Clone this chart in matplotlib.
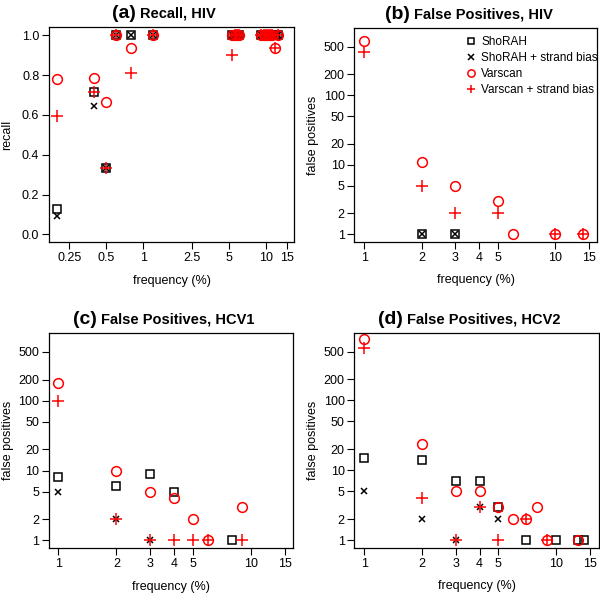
import matplotlib
matplotlib.use("Agg")
import matplotlib.pyplot as plt
import numpy as np
from matplotlib.offsetbox import TextArea, HPacker, AnchoredOffsetbox
from matplotlib.lines import Line2D

plt.rcParams['font.family'] = ['Liberation Sans', 'DejaVu Sans']

nan = np.nan

# (a) recall, HIV
freq_a = [0.2, 0.4, 0.5, 0.6, 0.8, 1.2, 5.3, 5.6, 5.8, 6.0,
          9.2, 9.6, 10.0, 10.4, 10.8, 11.2, 12.0, 12.6]
shorah_a = [0.125, 0.714, 0.333, 1, 1, 1, 1, 1, 1, 1,
            1, 1, 1, 1, 1, 1, 1, 1]
shorah_sb_a = [0.094, 0.643, 0.333, 1, 1, 1, 1, 1, 1, 1,
               1, 1, 1, 1, 1, 1, 1, 1]
varscan_a = [0.781, 0.786, 0.667, 1, 0.9375, 1, 1, 1, 1, 1,
             1, 1, 1, 1, 1, 1, 0.9375, 1]
varscan_sb_a = [0.594, 0.714, 0.333, 1, 0.8125, 1, 0.9, 1, 1, 1,
                1, 1, 1, 1, 1, 1, 0.9375, 1]

# (b) false positives, HIV
freq_b = [1, 2, 3, 5, 6, 10, 14]
shorah_b = [nan, 1, 1, nan, nan, nan, nan]
shorah_sb_b = [nan, 1, 1, nan, nan, nan, nan]
varscan_b = [600, 11, 5, 3, 1, 1, 1]
varscan_sb_b = [420, 5, 2, 2, nan, 1, 1]

# (c) false positives, HCV1
freq_c = [1, 2, 3, 4, 5, 6, 8, 9]
shorah_c = [8, 6, 9, 5, nan, nan, 1, nan]
shorah_sb_c = [5, 2, 1, nan, nan, nan, nan, nan]
varscan_c = [180, 10, 5, 4, 2, 1, nan, 3]
varscan_sb_c = [100, 2, 1, 1, 1, 1, nan, 1]

# (d) false positives, HCV2
freq_d = [1, 2, 3, 4, 5, 6, 7, 8, 9, 10, 13, 14]
shorah_d = [15, 14, 7, 7, 3, nan, 1, nan, nan, 1, 1, 1]
shorah_sb_d = [5, 2, 1, 3, 2, nan, nan, nan, nan, nan, nan, nan]
varscan_d = [760, 24, 5, 5, 3, 2, 2, 3, 1, nan, 1, nan]
varscan_sb_d = [560, 4, 1, 3, 1, nan, 2, nan, 1, nan, nan, nan]

labels = ["ShoRAH", "ShoRAH + strand bias", "Varscan", "Varscan + strand bias"]
fp_ticks = [1, 2, 5, 10, 20, 50, 100, 200, 500]
freq_ticks = [1, 2, 3, 4, 5, 10, 15]
recall_ticks = [0.0, 0.2, 0.4, 0.6, 0.8, 1.0]
freq_ticks_a = [0.25, 0.5, 1, 2.5, 5, 10, 15]

W, H = 600, 595
fig = plt.figure(figsize=(6, 5.95), dpi=100)


def box(l, r, t, b):
    return fig.add_axes([l / W, (H - b) / H, (r - l) / W, (b - t) / H])


def draw(ax, f, s, ssb, v, vsb):
    ax.plot(f, s, ls='none', marker='s', ms=6, mfc='none', mec='black', mew=1.1)
    ax.plot(f, ssb, ls='none', marker='x', ms=5, color='black', mew=1.1)
    ax.plot(f, v, ls='none', marker='o', ms=7, mfc='none', mec='red', mew=1.1)
    ax.plot(f, vsb, ls='none', marker='+', ms=8, color='red', mew=1.1)


def style(ax, part, title):
    ax.tick_params(direction='out', length=5, width=0.8, labelsize=9, pad=2)
    for sp in ax.spines.values():
        sp.set_linewidth(0.9)
    ax.minorticks_off()
    ax.set_xlabel("frequency (%)", fontsize=9)
    ax.xaxis.set_label_coords(0.5, -0.15)
    ax.yaxis.set_label_coords(-0.145, 0.5)
    t1 = TextArea(part, textprops=dict(fontsize=14, fontweight='bold'))
    t2 = TextArea(title, textprops=dict(fontsize=10.5, fontweight='bold'))
    pk = HPacker(children=[t1, t2], align='baseline', pad=0, sep=3)
    ab = AnchoredOffsetbox(loc='lower center', child=pk, frameon=False,
                           bbox_to_anchor=(0.47, 1.025), bbox_transform=ax.transAxes,
                           borderpad=0, pad=0)
    ax.add_artist(ab)


def fp_axes(ax):
    ax.set_xscale('log')
    ax.set_yscale('log')
    ax.set_xlim(0.887, 16.6)
    ax.set_ylim(0.77, 920)
    ax.set_xticks(freq_ticks)
    ax.set_xticklabels([str(t) for t in freq_ticks])
    ax.set_yticks(fp_ticks)
    ax.set_yticklabels([str(t) for t in fp_ticks])
    ax.minorticks_off()
    ax.set_ylabel("false positives", fontsize=9)


# (a)
ax = box(49, 294, 27.3, 242.3)
draw(ax, freq_a, shorah_a, shorah_sb_a, varscan_a, varscan_sb_a)
ax.set_xscale('log')
ax.set_xlim(0.171, 17.0)
ax.set_ylim(-0.04, 1.04)
ax.set_xticks(freq_ticks_a)
ax.set_xticklabels(["0.25", "0.5", "1", "2.5", "5", "10", "15"])
ax.set_yticks(recall_ticks)
ax.set_yticklabels(["%.1f" % t for t in recall_ticks])
ax.set_ylabel("recall", fontsize=9)
style(ax, "(a)", "Recall, HIV")

# (b)
ax = box(354.3, 597.3, 28.3, 242.3)
draw(ax, freq_b, shorah_b, shorah_sb_b, varscan_b, varscan_sb_b)
fp_axes(ax)
style(ax, "(b)", "False Positives, HIV")
handles = [
    Line2D([], [], ls='none', marker='s', ms=6, mfc='none', mec='black', mew=1.1),
    Line2D([], [], ls='none', marker='x', ms=5, color='black', mew=1.1),
    Line2D([], [], ls='none', marker='o', ms=7, mfc='none', mec='red', mew=1.1),
    Line2D([], [], ls='none', marker='+', ms=8, color='red', mew=1.1),
]
ax.legend(handles, labels, loc='upper left', bbox_to_anchor=(0.455, 0.965),
          frameon=False, fontsize=8.5, handlelength=1.0, handletextpad=0.4,
          borderpad=0, borderaxespad=0, labelspacing=0.35, markerscale=0.75)

# (c)
ax = box(49, 293.3, 333.3, 548.3)
draw(ax, freq_c, shorah_c, shorah_sb_c, varscan_c, varscan_sb_c)
fp_axes(ax)
ax.set_xlim(0.894, 16.6)
style(ax, "(c)", "False Positives, HCV1")

# (d)
ax = box(354.3, 599, 333, 548)
draw(ax, freq_d, shorah_d, shorah_sb_d, varscan_d, varscan_sb_d)
fp_axes(ax)
ax.set_xlim(0.887, 16.8)
style(ax, "(d)", "False Positives, HCV2")

fig.savefig("out.png", dpi=100)
